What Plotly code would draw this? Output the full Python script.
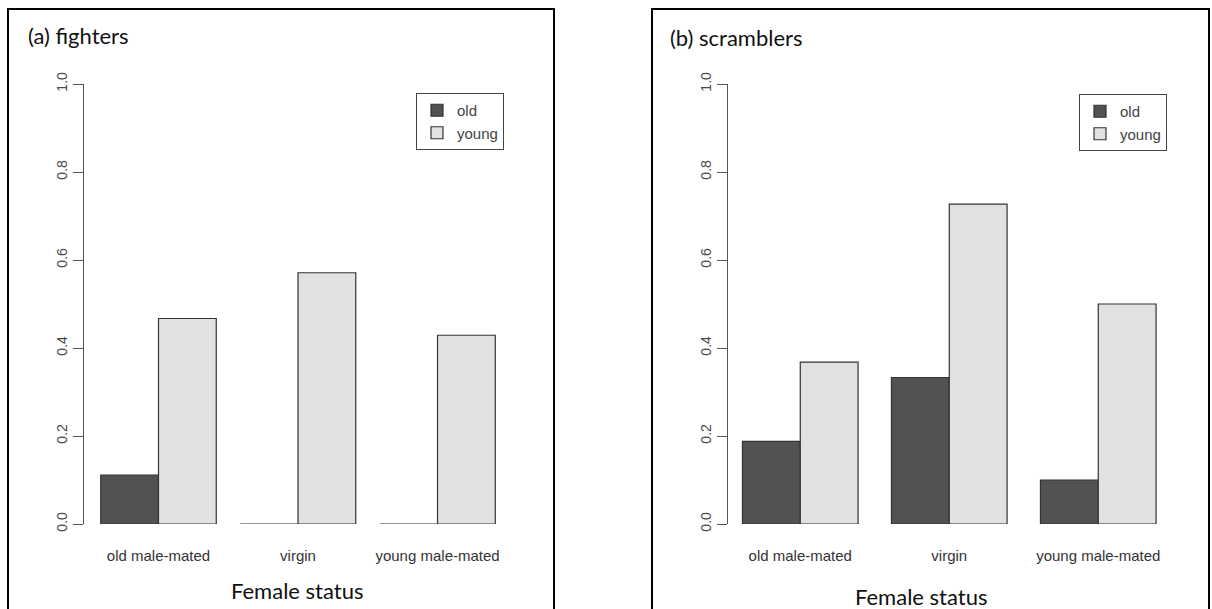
import plotly.graph_objects as go

# Proportions by female status, for old and young males
statuses = ["old male-mated", "virgin", "young male-mated"]
fighters_old = [0.111, 0.0, 0.0]
fighters_young = [0.467, 0.571, 0.429]
scramblers_old = [0.188, 0.333, 0.100]
scramblers_young = [0.368, 0.727, 0.500]
y_ticks = [0.0, 0.2, 0.4, 0.6, 0.8, 1.0]
y_tick_labels = ["0.0", "0.2", "0.4", "0.6", "0.8", "1.0"]

W, H = 1212, 609


def fx(px):
    return px / W


def fy(px):
    return 1 - px / H


OLD_FILL = "#505254"
YOUNG_FILL = "#e0e1e3"
EDGE = "#333333"
AXIS = "#555555"
TICK_FONT = dict(family="Liberation Sans, Arial, sans-serif", size=14, color="#4a4a4a")
LABEL_FONT = dict(family="Liberation Sans, Arial, sans-serif", size=15, color="#333333")
TITLE_FONT = dict(family="Lato, Open Sans, sans-serif", size=22, color="#111111")

fig = go.Figure()

panels = [
    # axes, legend, data, bar width (category units)
    ("x", "y", "legend", fighters_old, fighters_young, 0.414),
    ("x2", "y2", "legend2", scramblers_old, scramblers_young, 0.388),
]
for xa, ya, lg, old, young, w in panels:
    fig.add_trace(go.Bar(
        x=statuses, y=old, name="old", xaxis=xa, yaxis=ya, legend=lg,
        width=w, offset=-w,
        marker=dict(color=OLD_FILL, line=dict(color=EDGE, width=1.2)),
    ))
    fig.add_trace(go.Bar(
        x=statuses, y=young, name="young", xaxis=xa, yaxis=ya, legend=lg,
        width=w, offset=0,
        marker=dict(color=YOUNG_FILL, line=dict(color=EDGE, width=1.2)),
    ))

yaxis_style = dict(
    range=[0, 1], tickvals=y_ticks, ticktext=y_tick_labels,
    ticks="outside", ticklen=10, tickwidth=1, tickcolor=AXIS,
    showline=True, linecolor=AXIS, linewidth=1,
    showgrid=False, zeroline=False, tickangle=-90, tickfont=TICK_FONT,
    domain=[fy(524), fy(84)],
)
xaxis_style = dict(
    type="category", showline=False, showgrid=False, zeroline=False,
    ticks="outside", ticklen=18, tickcolor="rgba(0,0,0,0)",
    tickfont=LABEL_FONT,
)

legend_style = dict(
    bgcolor="white", bordercolor="#444444", borderwidth=1,
    font=dict(family="Liberation Sans, Arial, sans-serif", size=15, color="#444444"),
    xanchor="left", yanchor="top", traceorder="normal",
)

fig.update_layout(
    width=W, height=H,
    margin=dict(l=0, r=0, t=0, b=0, autoexpand=False),
    paper_bgcolor="white", plot_bgcolor="white",
    barmode="overlay",
    xaxis=dict(xaxis_style, domain=[fx(84), fx(514)], range=[-0.534, 2.548], anchor="y"),
    yaxis=dict(yaxis_style, anchor="x"),
    xaxis2=dict(xaxis_style, domain=[fx(728), fx(1175)], range=[-0.485, 2.515], anchor="y2"),
    yaxis2=dict(yaxis_style, anchor="x2"),
    legend=dict(legend_style, x=fx(416), y=fy(93)),
    legend2=dict(legend_style, x=fx(1079), y=fy(94)),
    showlegend=True,
)

# Panel frames
for x0, x1 in [(8, 554), (652, 1209)]:
    fig.add_shape(type="rect", xref="paper", yref="paper",
                  x0=fx(x0), x1=fx(x1), y0=fy(640), y1=fy(9),
                  line=dict(color="black", width=2), fillcolor="rgba(0,0,0,0)",
                  layer="below")

annotations = [
    ("(a) fighters", 26, 35, "left"),
    ("(b) scramblers", 668, 37, "left"),
    ("Female status", 297, 590, "center"),
    ("Female status", 921, 596, "center"),
]
for text, x, y, anchor in annotations:
    fig.add_annotation(text=text, xref="paper", yref="paper", x=fx(x), y=fy(y),
                       xanchor=anchor, yanchor="middle", showarrow=False,
                       font=TITLE_FONT)

fig.write_html("out.html")
